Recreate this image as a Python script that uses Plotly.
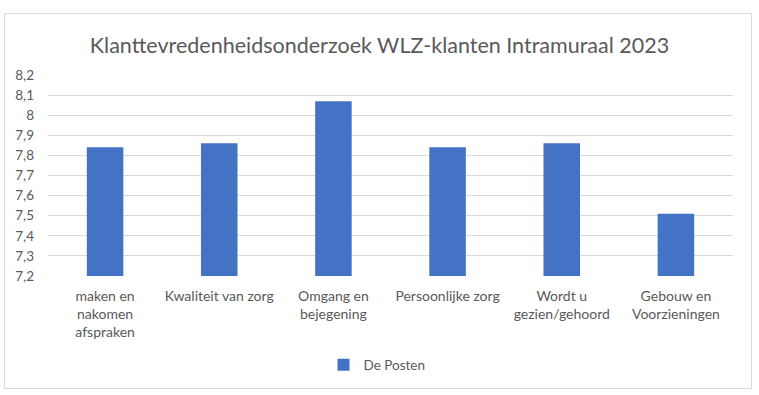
import plotly.graph_objects as go

categories = ["maken en<br>nakomen<br>afspraken", "Kwaliteit van zorg", "Omgang en<br>bejegening",
              "Persoonlijke zorg", "Wordt u<br>gezien/gehoord", "Gebouw en<br>Voorzieningen"]
values = [7.84, 7.86, 8.07, 7.84, 7.86, 7.51]
series_name = "De Posten"
y_ticks = [7.2, 7.3, 7.4, 7.5, 7.6, 7.7, 7.8, 7.9, 8.0, 8.1, 8.2]
y_tick_labels = ["7,2", "7,3", "7,4", "7,5", "7,6", "7,7", "7,8", "7,9", "8", "8,1", "8,2"]
y_min, y_max = 7.2, 8.2

FONT = "Lato, Open Sans, sans-serif"
GREY = "#595959"

fig = go.Figure()
fig.add_trace(go.Bar(x=categories, y=[v - y_min for v in values], base=y_min,
                     name=series_name, marker_color="#4472C4", marker_line_width=0,
                     width=0.32, showlegend=True, hoverinfo="skip"))

L, R, T, B = 48, 26, 75, 119
W, H = 759, 395
pw, ph = W - L - R, H - T - B

def px(x):
    return (x - L) / pw

def py(y):
    return (H - B - y) / ph

fig.update_layout(
    width=W, height=H,
    margin=dict(l=L, r=R, t=T, b=B, autoexpand=False),
    paper_bgcolor="white", plot_bgcolor="white",
    font=dict(family=FONT, color=GREY, size=13.5),
    title=dict(text="Klanttevredenheidsonderzoek WLZ-klanten Intramuraal 2023",
               x=0.5, xanchor="center", y=1 - 45 / H, yanchor="middle",
               font=dict(size=21.5, color=GREY, family=FONT)),
    xaxis=dict(showgrid=False, showline=False, ticks="", ticklabelstandoff=10,
               tickfont=dict(size=14, color=GREY)),
    yaxis=dict(range=[y_min, y_max], tickvals=y_ticks, ticktext=y_tick_labels,
               showgrid=True, gridcolor="#D9D9D9", gridwidth=1, zeroline=False,
               showline=False, ticks="", ticklabelstandoff=13, tickfont=dict(size=13.5, color=GREY)),
    legend=dict(orientation="h", x=px(377), xanchor="center", y=py(365), yanchor="middle",
                font=dict(size=13.5, color=GREY), bgcolor="rgba(0,0,0,0)"),
    shapes=[dict(type="rect", xref="paper", yref="paper",
                 x0=px(4.5), x1=px(751.5), y0=py(388.5), y1=py(13.5),
                 line=dict(color="#D9D9D9", width=1), fillcolor="rgba(0,0,0,0)", layer="below")],
)
fig.write_html("out.html", config={"displayModeBar": False},
               post_script="document.body.style.margin='0';document.body.style.padding='0';")
